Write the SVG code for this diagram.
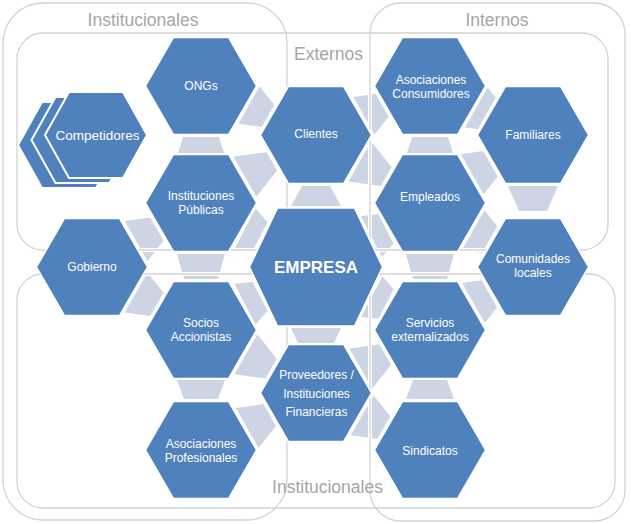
<svg xmlns="http://www.w3.org/2000/svg" width="631" height="524" viewBox="0 0 631 524">
<defs>
<style>
.hx{fill:#4F81BD;stroke:#fff;stroke-width:1.5}
.hs{fill:#4F81BD;stroke:#fff;stroke-width:2}
.cn{fill:#CDD5E4}
.bw{fill:none;stroke:#fff;stroke-width:4}
.bx{fill:none;stroke:#D3D3D3;stroke-width:1.3}
.lb{font-family:"Liberation Sans",Arial,sans-serif;font-size:17.5px;fill:#A6A6A6;text-anchor:middle}
.t{font-family:"Liberation Sans",Arial,sans-serif;font-size:12px;fill:#fff;text-anchor:middle}
</style>
<polygon id="hex" points="-55.5,0 -27.5,-48.5 27.5,-48.5 55.5,0 27.5,48.5 -27.5,48.5"/>
<polygon id="hexL" points="-66.5,0 -38.5,-59 38.5,-59 66.5,0 38.5,59 -38.5,59"/>
<polygon id="hexS" points="-51,0 -27,-43 27,-43 51,0 27,43 -27,43"/>
</defs>
<rect width="631" height="524" fill="#fff"/>

<g id="connectors">
<polygon class="cn" points="183,137 219,137 224,153 178,153"/>
<polygon class="cn" points="177,254 225,254 218,279 184,279"/>
<polygon class="cn" points="177,380 225,380 218,399 184,399"/>
<polygon class="cn" points="302,186 330,186 341,206 291,206"/>
<polygon class="cn" points="291,328 341,328 334,343 298,343"/>
<polygon class="cn" points="412,137 448,137 453,153 407,153"/>
<polygon class="cn" points="406,254 454,254 447,279 413,279"/>
<polygon class="cn" points="413,380 447,380 454,399 406,399"/>
<polygon class="cn" points="508,186 558,186 547,211 519,211"/>
<polygon class="cn" transform="translate(258.5,110.5) rotate(-60.4)" points="-21.5,-11 21.5,-11 12.7,11 -12.7,11"/>
<polygon class="cn" transform="translate(258.4,169) rotate(-119.6)" points="-23,-15.5 23,-15.5 10.6,15.5 -10.6,15.5"/>
<polygon class="cn" transform="translate(252.5,232.8) rotate(-62.5)" points="-23,-8.5 23,-8.5 16.2,8.5 -16.2,8.5"/>
<polygon class="cn" transform="translate(146.5,235) rotate(-119.6)" points="-23,-12 23,-12 13.4,12 -13.4,12"/>
<polygon class="cn" transform="translate(146.5,298.5) rotate(-60.4)" points="-23,-12 23,-12 13.4,12 -13.4,12"/>
<polygon class="cn" transform="translate(252.5,300.2) rotate(-117.5)" points="-23,-8.5 23,-8.5 16.2,8.5 -16.2,8.5"/>
<polygon class="cn" transform="translate(258.5,361.4) rotate(-60.4)" points="-23,-14.5 23,-14.5 11.4,14.5 -11.4,14.5"/>
<polygon class="cn" transform="translate(258.5,421.5) rotate(-119.6)" points="-23,-13 23,-13 12.6,13 -12.6,13"/>
<polygon class="cn" transform="translate(373,110.5) rotate(-119.6)" points="-21.5,-10.5 21.5,-10.5 13.1,10.5 -13.1,10.5"/>
<polygon class="cn" transform="translate(373,169) rotate(-60.4)" points="-23,-15.2 23,-15.2 10.8,15.2 -10.8,15.2"/>
<polygon class="cn" transform="translate(378.7,232.7) rotate(-117.5)" points="-23,-8.2 23,-8.2 16.4,8.2 -16.4,8.2"/>
<polygon class="cn" transform="translate(378.9,300.3) rotate(-62.5)" points="-23,-8 23,-8 16.6,8 -16.6,8"/>
<polygon class="cn" transform="translate(373,361.5) rotate(-119.6)" points="-23,-14 23,-14 11.8,14 -11.8,14"/>
<polygon class="cn" transform="translate(373,421.4) rotate(-60.4)" points="-23,-12.5 23,-12.5 13,12.5 -13,12.5"/>
<polygon class="cn" transform="translate(481.5,110.5) rotate(-60.4)" points="-23,-6 23,-6 18.2,6 -18.2,6"/>
<polygon class="cn" transform="translate(481.4,169) rotate(-119.6)" points="-23,-10.5 23,-10.5 14.6,10.5 -14.6,10.5"/>
<polygon class="cn" transform="translate(481.4,235) rotate(-60.4)" points="-23,-9.5 23,-9.5 15.4,9.5 -15.4,9.5"/>
<polygon class="cn" transform="translate(481.4,298.4) rotate(-119.6)" points="-23,-9.2 23,-9.2 15.6,9.2 -15.6,9.2"/>
</g>

<g id="groups">
<rect class="bw" x="3" y="3" width="284" height="517" rx="40"/>
<rect class="bw" x="17" y="33" width="591" height="217" rx="26"/>
<rect class="bw" x="17" y="274" width="598" height="234" rx="26"/>
<rect class="bw" x="370" y="3" width="255" height="518" rx="31"/>
<rect class="bx" x="3" y="3" width="284" height="517" rx="40"/>
<rect class="bx" x="17" y="33" width="591" height="217" rx="26"/>
<rect class="bx" x="17" y="274" width="598" height="234" rx="26"/>
<rect class="bx" x="370" y="3" width="255" height="518" rx="31"/>
<text class="lb" x="143" y="25.5">Institucionales</text>
<text class="lb" x="497" y="25.5">Internos</text>
<text class="lb" x="328.5" y="59.5">Externos</text>
<text class="lb" x="327.5" y="493">Institucionales</text>
</g>

<g id="n-competidores">
<use class="hs" href="#hexS" transform="translate(69,145)"/>
<use class="hs" href="#hexS" transform="translate(82.5,140)"/>
<use class="hs" href="#hexS" transform="translate(96,135)"/>
<text class="t" x="97.5" y="140" style="font-size:13.5px">Competidores</text>
</g>
<g id="n-ongs">
<use class="hx" href="#hex" transform="translate(201,86)"/>
<text class="t" x="201" y="90">ONGs</text>
</g>
<g id="n-instituciones-publicas">
<use class="hx" href="#hex" transform="translate(201,203)"/>
<text class="t" x="201" y="200">Instituciones</text>
<text class="t" x="201" y="214">Públicas</text>
</g>
<g id="n-gobierno">
<use class="hx" href="#hex" transform="translate(92,267)"/>
<text class="t" x="92" y="271">Gobierno</text>
</g>
<g id="n-socios">
<use class="hx" href="#hex" transform="translate(201,330)"/>
<text class="t" x="201" y="327">Socios</text>
<text class="t" x="201" y="341">Accionistas</text>
</g>
<g id="n-asoc-profesionales">
<use class="hx" href="#hex" transform="translate(201,450)"/>
<text class="t" x="201" y="447.5">Asociaciones</text>
<text class="t" x="201" y="461.5">Profesionales</text>
</g>
<g id="n-clientes">
<use class="hx" href="#hex" transform="translate(316,135)"/>
<text class="t" x="316" y="138">Clientes</text>
</g>
<g id="n-empresa">
<use class="hx" href="#hexL" transform="translate(316,267)"/>
<text class="t" x="316" y="273" style="font-size:17px;font-weight:bold">EMPRESA</text>
</g>
<g id="n-proveedores">
<use class="hx" href="#hex" transform="translate(316,393)"/>
<text class="t" x="316.5" y="379">Proveedores /</text>
<text class="t" x="316.5" y="397.5">Instituciones</text>
<text class="t" x="316.5" y="416">Financieras</text>
</g>
<g id="n-asoc-consumidores">
<use class="hx" href="#hex" transform="translate(430,86)"/>
<text class="t" x="431" y="84">Asociaciones</text>
<text class="t" x="431" y="97.5">Consumidores</text>
</g>
<g id="n-empleados">
<use class="hx" href="#hex" transform="translate(430,203)"/>
<text class="t" x="430" y="201">Empleados</text>
</g>
<g id="n-servicios">
<use class="hx" href="#hex" transform="translate(430,330)"/>
<text class="t" x="430" y="327">Servicios</text>
<text class="t" x="430" y="341">externalizados</text>
</g>
<g id="n-sindicatos">
<use class="hx" href="#hex" transform="translate(430,450)"/>
<text class="t" x="430" y="455">Sindicatos</text>
</g>
<g id="n-familiares">
<use class="hx" href="#hex" transform="translate(533,135)"/>
<text class="t" x="533" y="139">Familiares</text>
</g>
<g id="n-comunidades">
<use class="hx" href="#hex" transform="translate(533,267)"/>
<text class="t" x="533" y="263">Comunidades</text>
<text class="t" x="533" y="277">locales</text>
</g>
</svg>
